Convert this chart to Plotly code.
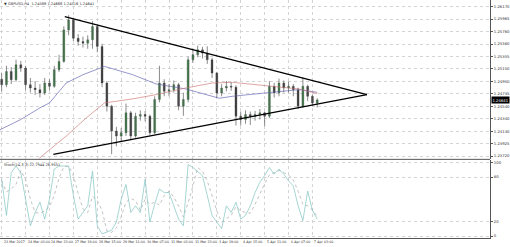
import plotly.graph_objects as go

# ---- data ----
bars = list(range(67))
opens = [1.24980, 1.24891, 1.25108, 1.24972, 1.25217, 1.25163, 1.24891, 1.24836, 1.24809, 1.24755,
         1.24918, 1.24863, 1.25136, 1.25272, 1.25789, 1.25952, 1.25653, 1.25598, 1.25571, 1.25626,
         1.25843, 1.25517, 1.24918, 1.24537, 1.24129, 1.24047, 1.24101, 1.24428, 1.24047, 1.24374,
         1.24401, 1.24374, 1.24101, 1.24646, 1.24918, 1.24782, 1.24809, 1.24891, 1.24537, 1.24646,
         1.25299, 1.25381, 1.25462, 1.25408, 1.25299, 1.25081, 1.24755, 1.24836, 1.24863, 1.24850,
         1.24374, 1.24319, 1.24401, 1.24374, 1.24401, 1.24428, 1.24374, 1.24863, 1.24755, 1.24918,
         1.24836, 1.24863, 1.24809, 1.24537, 1.24863, 1.24700, 1.24588]
highs = [1.25080, 1.25200, 1.25180, 1.25300, 1.25280, 1.25200, 1.25000, 1.24950, 1.24900, 1.25000,
         1.24980, 1.25200, 1.25380, 1.25850, 1.26030, 1.25990, 1.25720, 1.25680, 1.25700, 1.25930,
         1.25870, 1.25560, 1.24950, 1.24560, 1.24200, 1.24180, 1.24580, 1.24460, 1.24430, 1.24470,
         1.24460, 1.24400, 1.24700, 1.25200, 1.24980, 1.24900, 1.24960, 1.24920, 1.24760, 1.25350,
         1.25480, 1.25530, 1.25510, 1.25520, 1.25330, 1.25100, 1.24900, 1.24950, 1.24930, 1.24880,
         1.24450, 1.24470, 1.24450, 1.24460, 1.24490, 1.24450, 1.24950, 1.24920, 1.24990, 1.24960,
         1.24940, 1.24900, 1.24840, 1.25010, 1.24890, 1.24730, 1.24668]
lows = [1.24780, 1.24850, 1.24900, 1.24940, 1.25100, 1.24800, 1.24760, 1.24720, 1.24680, 1.24720,
        1.24800, 1.24840, 1.25100, 1.25250, 1.25700, 1.25600, 1.25530, 1.25500, 1.25480, 1.25480,
        1.25420, 1.24850, 1.24450, 1.23750, 1.23880, 1.23960, 1.24050, 1.23980, 1.24020, 1.24300,
        1.24290, 1.24060, 1.24080, 1.24600, 1.24700, 1.24700, 1.24760, 1.24470, 1.24380, 1.24600,
        1.25250, 1.25340, 1.25320, 1.25230, 1.25000, 1.24680, 1.24700, 1.24780, 1.24790, 1.24220,
        1.24220, 1.24250, 1.24230, 1.24300, 1.24320, 1.24210, 1.24340, 1.24680, 1.24700, 1.24760,
        1.24760, 1.24700, 1.24490, 1.24510, 1.24620, 1.24540, 1.24516]
closes = [1.24891, 1.25108, 1.24972, 1.25217, 1.25163, 1.24891, 1.24836, 1.24809, 1.24755, 1.24918,
          1.24863, 1.25136, 1.25272, 1.25789, 1.25952, 1.25653, 1.25598, 1.25571, 1.25626, 1.25843,
          1.25517, 1.24918, 1.24537, 1.24129, 1.24047, 1.24101, 1.24428, 1.24047, 1.24374, 1.24401,
          1.24374, 1.24101, 1.24646, 1.24918, 1.24782, 1.24809, 1.24891, 1.24537, 1.24646, 1.25299,
          1.25381, 1.25462, 1.25408, 1.25299, 1.25081, 1.24755, 1.24836, 1.24863, 1.24850, 1.24374,
          1.24319, 1.24401, 1.24374, 1.24401, 1.24428, 1.24374, 1.24863, 1.24755, 1.24918, 1.24836,
          1.24863, 1.24809, 1.24537, 1.24863, 1.24700, 1.24588, 1.24641]

ma_blue_x = [-0.4, 4, 8, 10, 13.5, 17, 21.5, 27.4, 32.3, 38.5, 45.5, 48.3, 55.2, 62.2, 66]
ma_blue_y = [1.24150, 1.24319, 1.24510, 1.24591, 1.24918, 1.25054, 1.25190, 1.25054, 1.24902,
             1.24820, 1.24668, 1.24700, 1.24755, 1.24809, 1.24765]
ma_red_x = [7, 8, 13.5, 17.7, 21.5, 27.4, 32.3, 38.5, 44.1, 48.3, 55.2, 62.2, 66]
ma_red_y = [1.23600, 1.23693, 1.24047, 1.24346, 1.24591, 1.24657, 1.24727, 1.24836, 1.24918,
            1.24929, 1.24874, 1.24820, 1.24744]

upper_trend_x = [13.2, 76.4]
upper_trend_y = [1.26007, 1.24727]
lower_trend_x = [10.8, 76.4]
lower_trend_y = [1.23747, 1.24727]

stoch_main = [77, 28, 86, 95, 86, 50, 14, 32, 46, 23, 50, 91, 95, 95, 95, 55, 23, 32, 41, 88,
              14, 3, 5, 8, 19, 50, 70, 32, 41, 32, 77, 19, 43, 64, 59, 59, 41, 23, 14, 97,
              93, 88, 82, 55, 28, 19, 10, 41, 32, 46, 23, 28, 41, 59, 73, 82, 93, 84, 91, 84,
              75, 68, 41, 21, 61, 35, 22.79]
stoch_signal = [75, 60, 64, 70, 89, 77, 50, 32, 31, 34, 40, 55, 79, 94, 95, 82, 58, 37, 32, 54,
                48, 35, 7, 5, 11, 26, 46, 51, 48, 35, 50, 43, 46, 42, 55, 61, 53, 41, 26, 45,
                68, 93, 88, 75, 55, 34, 19, 23, 28, 40, 34, 32, 31, 43, 58, 71, 83, 86, 89, 86,
                83, 76, 61, 43, 41, 35, 26.96]

price_ticks = [1.26170, 1.25966, 1.25762, 1.25557, 1.25353, 1.25149, 1.24945,
               1.24741, 1.24537, 1.24332, 1.24128, 1.23924, 1.23720]
price_labels = ["1.26170", "1.25965", "1.25760", "1.25560", "1.25355", "1.25150", "1.24950",
                "1.24745", "1.24540", "1.24340", "1.24130", "1.23925", "1.23720"]
time_tick_bars = [0, 5, 10, 15, 20, 25, 30, 35, 40, 45, 50, 55, 60, 65]
time_labels = ["23 Mar 2017", "24 Mar 03:00", "24 Mar 23:00", "27 Mar 19:00", "28 Mar 15:00",
               "29 Mar 11:00", "30 Mar 07:00", "31 Mar 03:00", "31 Mar 23:00", "3 Apr 19:00",
               "4 Apr 15:00", "5 Apr 11:00", "6 Apr 07:00", "7 Apr 03:00"]
stoch_ticks = [0, 20, 80, 100]
title_text = "\u25BC GBPUSD,H4  1.24588 1.24668 1.24516 1.24641"
stoch_text = "Stoch(14,3,3) 22.7944 26.9551"
last_price_label = "1.24641"

# ---- figure ----
FONT = "DejaVu Sans"
fig = go.Figure()

fig.add_trace(go.Scatter(x=ma_blue_x, y=ma_blue_y, mode="lines",
                         line=dict(color="#6a6ab8", width=0.7), xaxis="x", yaxis="y"))
fig.add_trace(go.Scatter(x=ma_red_x, y=ma_red_y, mode="lines",
                         line=dict(color="#d08080", width=0.7), xaxis="x", yaxis="y"))

# candle wicks
wx, wy = [], []
for b, h, l in zip(bars, highs, lows):
    wx += [b, b, None]
    wy += [l, h, None]
fig.add_trace(go.Scatter(x=wx, y=wy, mode="lines", line=dict(color="#5a5a5a", width=0.7),
                         xaxis="x", yaxis="y"))
# candle bodies
body_base = [min(o, c) for o, c in zip(opens, closes)]
body_len = [max(abs(c - o), 0.00004) for o, c in zip(opens, closes)]
body_col = ["#2f8f3f" if c >= o else "#2b2b2b" for o, c in zip(opens, closes)]
fig.add_trace(go.Bar(x=bars, y=body_len, base=body_base, width=0.4,
                     marker=dict(color=body_col, line=dict(color="#333333", width=0.3)),
                     xaxis="x", yaxis="y"))

fig.add_trace(go.Scatter(x=upper_trend_x, y=upper_trend_y, mode="lines",
                         line=dict(color="black", width=1.3), xaxis="x", yaxis="y"))
fig.add_trace(go.Scatter(x=lower_trend_x, y=lower_trend_y, mode="lines",
                         line=dict(color="black", width=1.3), xaxis="x", yaxis="y"))

fig.add_trace(go.Scatter(x=bars, y=stoch_signal, mode="lines",
                         line=dict(color="#a8a8a8", width=0.7, dash="dot"), xaxis="x2", yaxis="y2"))
fig.add_trace(go.Scatter(x=bars, y=stoch_main, mode="lines",
                         line=dict(color="#80c4c0", width=0.7), xaxis="x2", yaxis="y2"))

xr = [-0.35, 102.15]
grid = dict(showgrid=True, gridcolor="#d4d4d4", gridwidth=0.6, griddash="dot")
fig.update_layout(
    width=510, height=247, margin=dict(l=0, r=0, t=0, b=0),
    paper_bgcolor="white", plot_bgcolor="white", showlegend=False, barmode="overlay",
    font=dict(family=FONT, size=3.8, color="#333333"),
    xaxis=dict(domain=[0, 0.9647], range=xr, anchor="y", tickvals=time_tick_bars,
               showticklabels=False, zeroline=False, showline=False, **grid),
    yaxis=dict(domain=[0.3543, 1], range=[1.23674, 1.26279], side="right", anchor="x",
               tickvals=price_ticks, ticktext=price_labels, ticks="outside", ticklen=2,
               tickcolor="#555", tickfont=dict(size=3.8, color="#333"),
               showline=True, linecolor="#555", linewidth=1, zeroline=False, **grid),
    xaxis2=dict(domain=[0, 0.9647], range=xr, anchor="y2", matches="x", tickvals=time_tick_bars,
                showticklabels=False, zeroline=False, showline=True, linecolor="#555",
                linewidth=1, **grid),
    yaxis2=dict(domain=[0.0344, 0.3502], range=[-2, 103.4], side="right", anchor="x2",
                tickvals=stoch_ticks, ticks="outside", ticklen=2, tickcolor="#555",
                tickfont=dict(size=3.8, color="#333"),
                showline=True, linecolor="#555", linewidth=1, zeroline=False, **grid),
)

# panel separator
fig.add_shape(type="line", xref="paper", yref="paper", x0=0, x1=0.9647, y0=0.3522, y1=0.3522,
              line=dict(color="#555555", width=1))

# top-left labels
fig.add_annotation(text=title_text, xref="paper", yref="paper", x=0.004, y=0.999,
                   xanchor="left", yanchor="top", showarrow=False,
                   font=dict(size=3.6, color="#333"))
fig.add_annotation(text=stoch_text, xref="paper", yref="paper", x=0.004, y=0.347,
                   xanchor="left", yanchor="top", showarrow=False,
                   font=dict(size=3.6, color="#333"))

# last price box
fig.add_annotation(text=last_price_label, xref="paper", yref="y", x=0.9667, y=closes[-1],
                   xanchor="left", yanchor="middle", showarrow=False, bgcolor="black",
                   font=dict(size=3.8, color="white"), borderpad=0.5)

# time labels (left-aligned at their bar)
for b, t in zip(time_tick_bars, time_labels):
    fig.add_annotation(text=t, xref="x", yref="paper", x=b, y=0.018, xanchor="left",
                       yanchor="middle", showarrow=False, font=dict(size=3.3, color="#333"))

fig.write_html("out.html")
